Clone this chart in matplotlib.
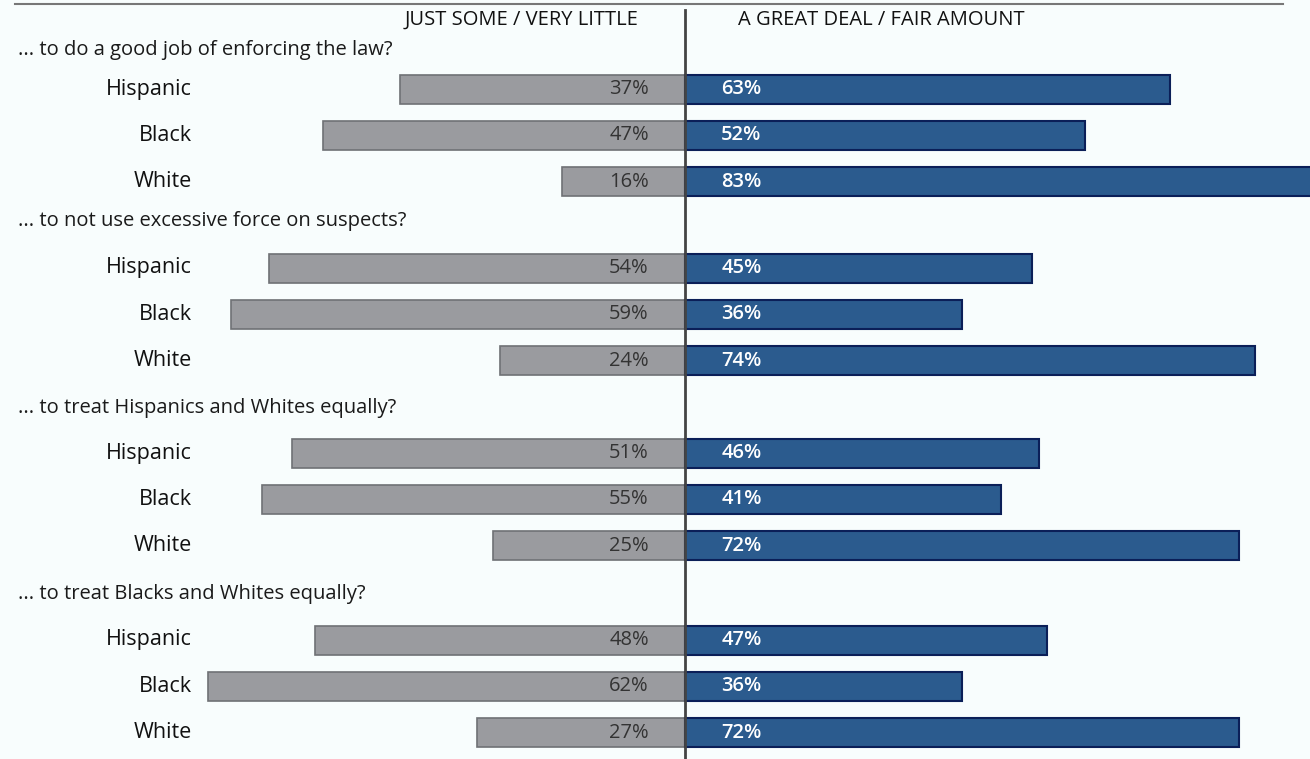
import matplotlib.pyplot as plt

plt.rcParams["font.family"] = ["Open Sans", "DejaVu Sans"]

questions = [
    "... to do a good job of enforcing the law?",
    "... to not use excessive force on suspects?",
    "... to treat Hispanics and Whites equally?",
    "... to treat Blacks and Whites equally?",
]
groups = ["Hispanic", "Black", "White"]
little = [
    [37, 47, 16],
    [54, 59, 24],
    [51, 55, 25],
    [48, 62, 27],
]
great = [
    [63, 52, 83],
    [45, 36, 74],
    [46, 41, 72],
    [47, 36, 72],
]

gray = "#9a9b9f"
gray_edge = "#6f7175"
blue = "#2b5b8e"
blue_edge = "#0b1f58"
bg = "#f8fdfd"

fig = plt.figure(figsize=(13.1, 7.59), dpi=100, facecolor=bg)
ax = fig.add_axes([0, 0, 1, 1])
ax.set_facecolor(bg)
# x in percent, center line at pixel 685, 7.7 px per percent
ax.set_xlim(-685 / 7.7, 625 / 7.7)
ax.set_ylim(759, 0)
ax.axis("off")

group_top = [50, 221, 408, 594]
row_first = [89, 268, 453, 640]
row_step = 46.3

for q, title in enumerate(questions):
    ax.text(-685 / 7.7 + 18 / 7.7, group_top[q], title, ha="left", va="center",
            fontsize=14.5, color="#1a1a1a")
    for i, g in enumerate(groups):
        y = row_first[q] + i * row_step
        ax.barh(y, -little[q][i], height=29, color=gray, edgecolor=gray_edge,
                linewidth=1.2)
        ax.barh(y, great[q][i], height=29, color=blue, edgecolor=blue_edge,
                linewidth=1.5)
        ax.text(-64, y, g, ha="right", va="center", fontsize=15.5, color="#111111")
        ax.text(-4.7, y, f"{little[q][i]}%", ha="right", va="center",
                fontsize=14.5, color="#333333")
        ax.text(4.7, y, f"{great[q][i]}%", ha="left", va="center",
                fontsize=14.5, color="white", fontweight="semibold")

ax.text(-6.0, 20, "JUST SOME / VERY LITTLE", ha="right", va="center",
        fontsize=14.5, color="#111111")
ax.text(6.9, 20, "A GREAT DEAL / FAIR AMOUNT", ha="left", va="center",
        fontsize=14.5, color="#111111")

ax.plot([-670 / 7.7, 598 / 7.7], [4, 4], color="#777777", linewidth=1.5)
ax.plot([0, 0], [10, 759], color="#444444", linewidth=2, zorder=5)

fig.savefig("out.png", dpi=100, facecolor=bg)
